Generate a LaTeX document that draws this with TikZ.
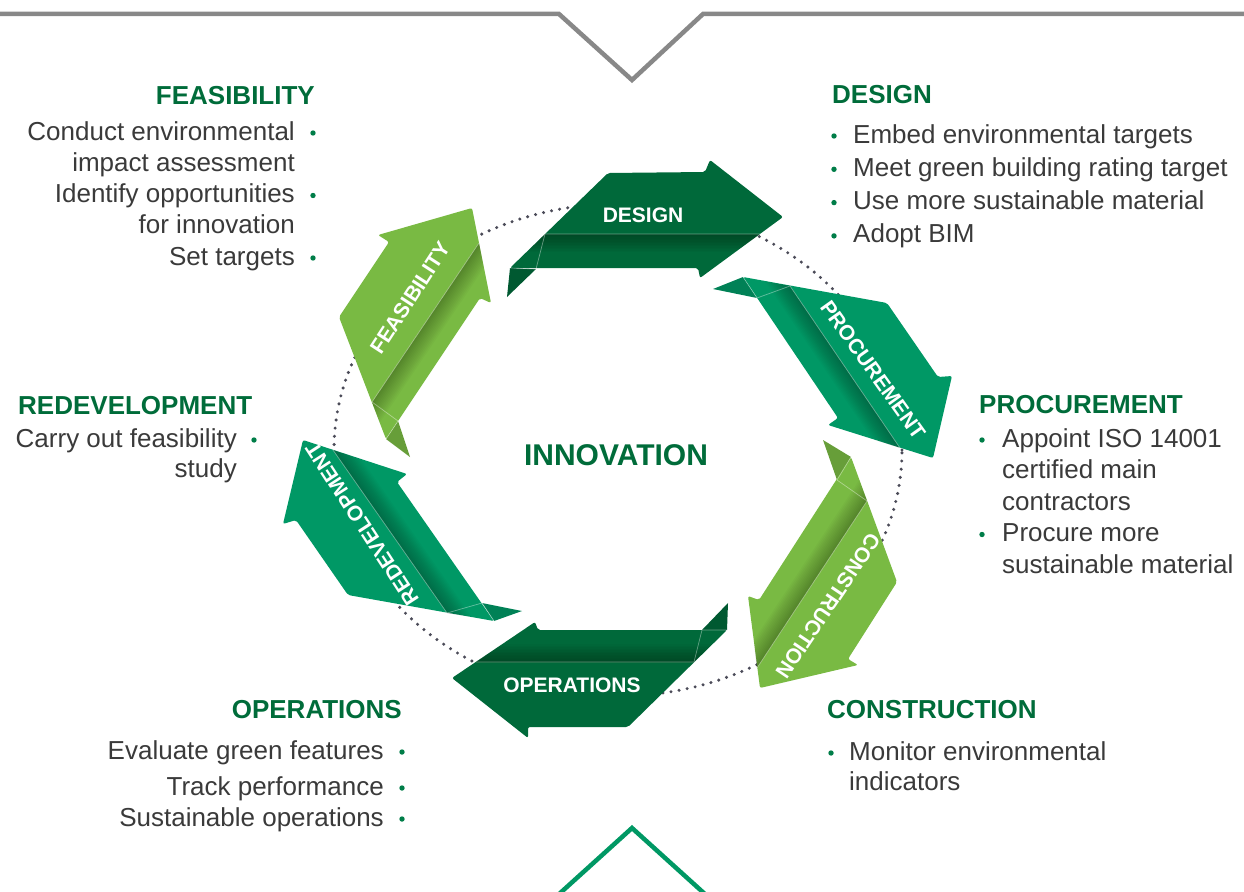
\documentclass[tikz,border=0pt]{standalone}
\usepackage{fontspec}
\setmainfont{Liberation Sans}
\definecolor{ringdark}{RGB}{0,105,58}
\definecolor{ringmid}{RGB}{0,152,101}
\definecolor{ringlight}{RGB}{121,186,67}
\definecolor{headgreen}{RGB}{0,108,58}
\definecolor{dotgreen}{RGB}{0,125,72}
\definecolor{bodygray}{RGB}{58,58,58}
\definecolor{framegray}{RGB}{136,136,136}
\definecolor{dotgray}{RGB}{75,75,88}
\definecolor{chevgreen}{RGB}{0,152,100}

\tikzset{
  blocktitle/.style={inner sep=0pt, text=headgreen, font=\bfseries\fontsize{26}{31}\selectfont},
  itemtext/.style={inner sep=0pt, text=bodygray, font=\fontsize{26}{31}\selectfont},
  arrowlabel/.style={inner sep=0pt, text=white, font=\bfseries\fontsize{21}{25}\selectfont},
  foldline/.style={white, opacity=.4, line width=.7pt},
}

% folded ribbon arrow, drawn from the coordinates <prefix>A ... <prefix>Q
\newcommand\foldarrow[2]{%
  \fill[#2!85!black] (#1A) -- (#1T) -- (#1H) -- cycle;
  \fill[#2, rounded corners=2pt] (#1A) -- (#1B) -- (#1C) -- (#1D) -- (#1E) -- (#1F) -- (#1G) -- cycle;
  \begin{scope}
    \clip (#1P) -- (#1Q) -- (#1F) -- (#1G) -- (#1A) -- cycle;
    \foreach \w in {3,6,...,36}
      \draw[black, opacity=.025, line width=\w*1pt, shorten <=-20pt, shorten >=-20pt] (#1P) -- (#1Q);
  \end{scope}
  \draw[foldline] (#1P) -- (#1Q) (#1P) -- (#1H) -- (#1A);
}

\begin{document}
\begin{tikzpicture}[x=1pt, y=-1pt]
    \useasboundingbox (0,0) rectangle (1244,891);

    % frame
    \draw[framegray, line width=4.5pt] (-5,14) -- (559,14) -- (632,80) -- (703,14) -- (1250,14);
    \draw[chevgreen, line width=4.5pt] (558,895) -- (632,828) -- (706,895);

    % dotted ring
    \draw[dotgray, line width=3.4pt, line cap=round, dash pattern=on 0pt off 8.2pt]
        (618,450) ellipse [x radius=284pt, y radius=246pt];

    % arrow outlines
    \path (510,268) coordinate (dsA) (507,297) coordinate (dsT) (536,269) coordinate (dsH)
          (608,173) coordinate (dsB) (705,172) coordinate (dsC) (710,160) coordinate (dsD)
          (783,217) coordinate (dsE) (700,278) coordinate (dsF) (698,268) coordinate (dsG)
          (545,234) coordinate (dsP) (760,234) coordinate (dsQ);
    \path (743,277) coordinate (pcA) (713,289) coordinate (pcT) (757,298) coordinate (pcH)
          (887,303) coordinate (pcB) (938,377) coordinate (pcC) (952,376) coordinate (pcD)
          (933,458) coordinate (pcE) (828,425) coordinate (pcF) (838,418) coordinate (pcG)
          (790,286) coordinate (pcP) (900,448) coordinate (pcQ);
    \path (851,457) coordinate (csA) (823,440) coordinate (csT) (837,480) coordinate (csH)
          (897,582) coordinate (csB) (848,659) coordinate (csC) (858,665) coordinate (csD)
          (760,688) coordinate (csE) (748,596) coordinate (csF) (759,600) coordinate (csG)
          (867,501) coordinate (csP) (757,668) coordinate (csQ);
    \path (727,630) coordinate (opA) (728,603) coordinate (opT) (702,630) coordinate (opH)
          (628,727) coordinate (opB) (528,727) coordinate (opC) (528,738) coordinate (opD)
          (452,678) coordinate (opE) (535,622) coordinate (opF) (538,630) coordinate (opG)
          (694,662) coordinate (opP) (476,662) coordinate (opQ);
    \path (494,621) coordinate (rdA) (522,611) coordinate (rdT) (482,603) coordinate (rdH)
          (348,595) coordinate (rdB) (296,520) coordinate (rdC) (283,524) coordinate (rdD)
          (303,440) coordinate (rdE) (407,474) coordinate (rdF) (397,482) coordinate (rdG)
          (447,613) coordinate (rdP) (333,450) coordinate (rdQ);
    \path (386,439) coordinate (fsA) (410,457) coordinate (fsT) (398,421) coordinate (fsH)
          (339,317) coordinate (fsB) (389,242) coordinate (fsC) (378,235) coordinate (fsD)
          (472,208) coordinate (fsE) (491,303) coordinate (fsF) (480,298) coordinate (fsG)
          (372,402) coordinate (fsP) (479,243) coordinate (fsQ);

    \foldarrow{ds}{ringdark}
    \foldarrow{pc}{ringmid}
    \foldarrow{cs}{ringlight}
    \foldarrow{op}{ringdark}
    \foldarrow{rd}{ringmid}
    \foldarrow{fs}{ringlight}

    % arrow labels
    \node[arrowlabel] (desLbl) at (643,215) {DESIGN};
    \node[arrowlabel, rotate=-54.5] (proLbl) at (873,370) {PROCUREMENT};
    \node[arrowlabel, rotate=-124] (conLbl) at (828,606) {CONSTRUCTION};
    \node[arrowlabel] (opeLbl) at (572,685) {OPERATIONS};
    \node[arrowlabel, rotate=123] (redLbl) at (362,524) {REDEVELOPMENT};
    \node[arrowlabel, rotate=57] (feaLbl) at (410,298) {FEASIBILITY};

    \node[blocktitle, font=\bfseries\fontsize{30}{36}\selectfont] (innov) at (616,455) {INNOVATION};

    % feasibility
    \node[blocktitle, anchor=base east] (feasT) at (315,104) {FEASIBILITY};
    \foreach \txt [count=\i] in {Conduct environmental, impact assessment, Identify opportunities, for innovation, Set targets}
        \node[itemtext, anchor=base east] (feas\i) at (295,{140+31.25*(\i-1)}) {\txt};
    \foreach \i in {1,3,5}
        \fill[dotgreen] ([xshift=18pt, yshift=7pt]feas\i.base east) circle (2.7pt);

    % design
    \node[blocktitle, anchor=base west] (desgT) at (832,103) {DESIGN};
    \foreach \txt [count=\i] in {Embed environmental targets, Meet green building rating target, Use more sustainable material, Adopt BIM}
        \node[itemtext, anchor=base west] (desg\i) at (853,{143+33.3*(\i-1)}) {\txt};
    \foreach \i in {1,...,4}
        \fill[dotgreen] ([xshift=-19pt, yshift=7pt]desg\i.base west) circle (2.7pt);

    % procurement
    \node[blocktitle, anchor=base west] (procT) at (979,413) {PROCUREMENT};
    \foreach \txt [count=\i] in {Appoint ISO 14001, certified main, contractors, Procure more, sustainable material}
        \node[itemtext, anchor=base west] (proc\i) at (1002,{447+31.5*(\i-1)}) {\txt};
    \foreach \i in {1,4}
        \fill[dotgreen] ([xshift=-20pt, yshift=7pt]proc\i.base west) circle (2.7pt);

    % construction
    \node[blocktitle, anchor=base west] (consT) at (827,718) {CONSTRUCTION};
    \foreach \txt [count=\i] in {Monitor environmental, indicators}
        \node[itemtext, anchor=base west] (cons\i) at (849,{760+30.5*(\i-1)}) {\txt};
    \fill[dotgreen] ([xshift=-18pt, yshift=7pt]cons1.base west) circle (2.7pt);

    % operations
    \node[blocktitle, anchor=base east] (operT) at (402,718) {OPERATIONS};
    \foreach \txt/\yy [count=\i] in {Evaluate green features/759, Track performance/795, Sustainable operations/826}
        \node[itemtext, anchor=base east] (oper\i) at (384,\yy) {\txt};
    \foreach \i in {1,...,3}
        \fill[dotgreen] ([xshift=18pt, yshift=7pt]oper\i.base east) circle (2.7pt);

    % redevelopment
    \node[blocktitle, anchor=base west] (redvT) at (18,414) {REDEVELOPMENT};
    \foreach \txt [count=\i] in {Carry out feasibility, study}
        \node[itemtext, anchor=base east] (redv\i) at (237,{447+30*(\i-1)}) {\txt};
    \fill[dotgreen] ([xshift=17pt, yshift=7pt]redv1.base east) circle (2.7pt);
\end{tikzpicture}
\end{document}
